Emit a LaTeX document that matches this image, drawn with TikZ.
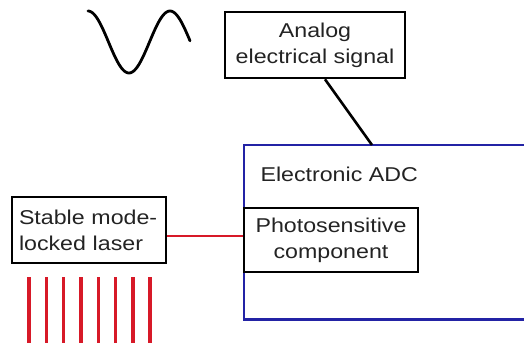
\documentclass[tikz,border=0pt]{standalone}
\usepackage{fontspec}
\setmainfont{Liberation Sans}[FakeStretch=1.16]
\usetikzlibrary{calc}
\definecolor{adcblue}{RGB}{35,35,165}
\definecolor{laserred}{RGB}{215,25,40}
\definecolor{txt}{RGB}{35,35,35}
\tikzset{
  blackbox/.style={draw=black, line width=2.6pt, inner sep=0pt, text=txt,
    font=\fontsize{20}{26}\selectfont},
  bluebox/.style={draw=none, inner sep=0pt},
  blueline/.style={draw=adcblue, line width=2.6pt},
  wire/.style={line width=2.6pt},
  redline/.style={draw=laserred, line width=2.4pt},
  pulse/.style={draw=laserred, line width=3.4pt},
}
\begin{document}
\begin{tikzpicture}[x=1pt,y=-1pt]
\useasboundingbox (0,0) rectangle (524,343);
\clip (0,0) rectangle (524,343);
% sine wave
\draw[line width=2.8pt, line cap=round, line join=round] plot[domain=88:190, samples=80, smooth] (\x, {42-31*cos((\x-88)/82*360)});
% Electronic ADC box (right side off the page)
\node[bluebox, minimum width=360pt, minimum height=174pt, anchor=north west] (adc) at (244,145) {};
\draw[blueline] (adc.north east) -- (adc.north west) -- (adc.south west) -- (adc.south east);
\node[anchor=base west, text=txt, font=\fontsize{20}{26}\selectfont] (adclabel) at (257,181) {Electronic ADC};
% Analog signal box
\node[blackbox, minimum width=180pt, minimum height=66pt, align=center] (ana) at (315,45) {Analog\\electrical signal};
% Photosensitive component
\node[blackbox, minimum width=174pt, minimum height=64pt, align=center] (photo) at (331,240) {Photosensitive\\component};
% Laser box
\node[blackbox, minimum width=154pt, minimum height=66pt, align=left, text width=140pt] (laser) at (89,230) {Stable mode-\\locked laser};
% connectors
\coordinate (anaout) at ($(ana.south)+(10,0)$);
\coordinate (adcin) at ($(adc.north west)+(128,0)$);
\draw[wire] (anaout) -- (adcin);
\coordinate (laserout) at ($(laser.east)+(0,6)$);
\draw[redline] (laserout) -- (laserout -| photo.west);
% pulse train
\foreach \px in {29,46.3,63.6,80.9,98.2,115.5,132.8,150.1}
  \draw[pulse] (\px,277) -- (\px,343);
\end{tikzpicture}
\end{document}
